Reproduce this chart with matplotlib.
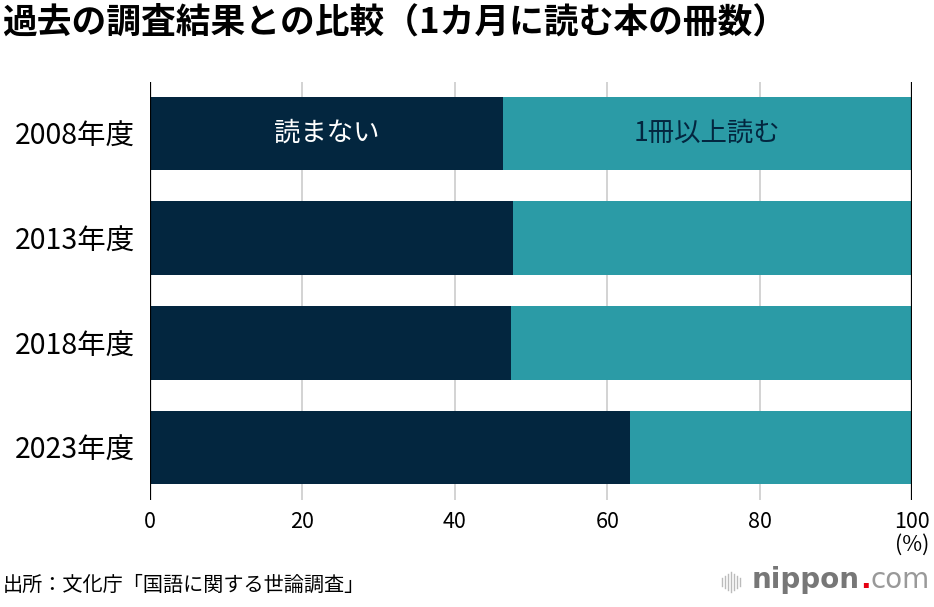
import matplotlib
matplotlib.use("Agg")
import matplotlib.pyplot as plt
from matplotlib.lines import Line2D

plt.rcParams['font.family'] = ['Noto Sans CJK JP', 'DejaVu Sans']

# data (%)
years = ['2008年度', '2013年度', '2018年度', '2023年度']
not_read = [46.3, 47.6, 47.4, 63.0]
read = [100 - v for v in not_read]
series_labels = ['読まない', '1冊以上読む']
ticks = [0, 20, 40, 60, 80, 100]

dark = '#03263f'
teal = '#2b9ba6'

fig = plt.figure(figsize=(9.34, 6.07), dpi=100)
ax = fig.add_axes([150/934, 107/607, 762/934, 418/607])

y = list(range(len(years)))
ax.barh(y, not_read, height=0.7, color=dark, zorder=3)
ax.barh(y, read, left=not_read, height=0.7, color=teal, zorder=3)

# labels inside the first bar
ax.text(not_read[0] / 2, 0, series_labels[0], color='white', fontsize=19,
        ha='center', va='center', zorder=4)
ax.text(not_read[0] + read[0] / 2, 0, series_labels[1], color=dark, fontsize=19,
        ha='center', va='center', zorder=4)

ax.set_xlim(0, 100)
ax.set_ylim(3.5, -0.49)
ax.set_yticks(y)
ax.set_yticklabels(years, fontsize=20.5)
ax.set_xticks(ticks)
ax.set_xticklabels([str(t) for t in ticks], fontsize=15.5)
ax.tick_params(axis='y', length=0, pad=11)
ax.tick_params(axis='x', length=0, pad=8)

for t in ticks:
    if t in (0, 100):
        ax.axvline(t, color='black', lw=1.6, zorder=5)
    else:
        ax.axvline(t, color='#cccccc', lw=1.2, zorder=1)

for s in ax.spines.values():
    s.set_visible(False)

ax.text(100, -0.08, '(%)', transform=ax.get_xaxis_transform(), fontsize=15.5,
        ha='center', va='top')

fig.text(2/934, 1 - 22/607, '過去の調査結果との比較（1カ月に読む本の冊数）',
         fontsize=25, fontweight='bold', ha='left', va='center')
fig.text(3/934, 1 - 585/607, '出所：文化庁「国語に関する世論調査」',
         fontsize=14.5, ha='left', va='center')

# nippon.com logo
for i, h in enumerate([8, 12, 16, 20, 16, 12, 8]):
    x = (722 + i * 3) / 934
    fig.add_artist(Line2D([x, x], [1 - (582 - h / 2) / 607, 1 - (582 + h / 2) / 607],
                          color='#bbbbbb', lw=1))
fig.canvas.draw()
r = fig.canvas.get_renderer()
xpos = 752
for txt, col, wt in [('nippon', '#777777', 'bold'), ('.', '#e60012', 'bold'),
                     ('com', '#999999', 'normal')]:
    t = fig.text(xpos/934, 1 - 580/607, txt, fontsize=20, fontweight=wt, color=col,
                 ha='left', va='center', family='DejaVu Sans')
    xpos += t.get_window_extent(r).width

fig.savefig('out.png', dpi=100)
